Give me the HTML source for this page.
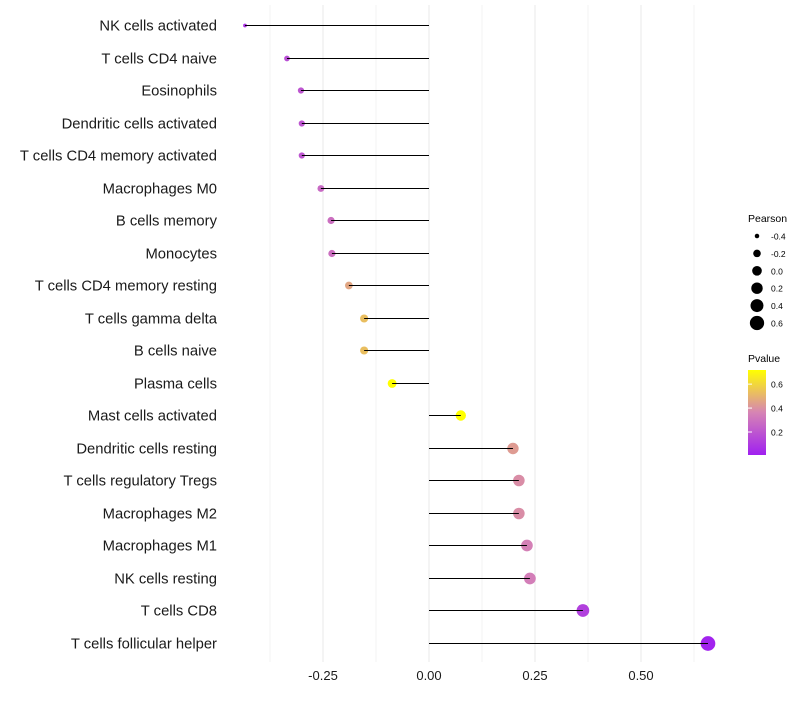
<!DOCTYPE html>
<html><head><meta charset="utf-8"><style>
body{margin:0;background:#fff;font-family:"Liberation Sans",sans-serif}
</style></head><body>
<svg id="c" width="800" height="700" xmlns="http://www.w3.org/2000/svg"></svg>
<script>
const categories=["NK cells activated","T cells CD4 naive","Eosinophils","Dendritic cells activated","T cells CD4 memory activated","Macrophages M0","B cells memory","Monocytes","T cells CD4 memory resting","T cells gamma delta","B cells naive","Plasma cells","Mast cells activated","Dendritic cells resting","T cells regulatory  Tregs ","Macrophages M2","Macrophages M1","NK cells resting","T cells CD8","T cells follicular helper"];
const pearson=[-0.434,-0.335,-0.302,-0.300,-0.300,-0.255,-0.231,-0.229,-0.189,-0.153,-0.153,-0.087,0.075,0.198,0.212,0.212,0.231,0.238,0.363,0.658];
const pvalue=[0.08,0.17,0.2,0.2,0.2,0.27,0.29,0.29,0.46,0.53,0.53,0.72,0.72,0.43,0.39,0.39,0.35,0.34,0.12,0.02];
const xTicks=[-0.25,0,0.25,0.5];
const xTickLabels=["-0.25","0.00","0.25","0.50"];
const sizeLegend=[-0.4,-0.2,0.0,0.2,0.4,0.6];
const sizeLegendLabels=["-0.4","-0.2","0.0","0.2","0.4","0.6"];
const pLegend=[0.2,0.4,0.6];

const NS="http://www.w3.org/2000/svg";
const svg=document.getElementById('c');
const X=v=>429+v*424;
const Y=i=>Math.round(25+i*32.5)+0.5;
const R=v=>Math.sqrt(Math.max(0.5,3.5+(v+0.434)*46));
function lerp(a,b,t){return a.map((x,k)=>Math.round(x+(b[k]-x)*t));}
function col(p){const t=Math.max(0,Math.min(1,(p-0.008)/0.71));
 const c0=[160,32,240],c1=[214,132,180],c2=[255,255,0];
 const c=t<0.5?lerp(c0,c1,t*2):lerp(c1,c2,(t-0.5)*2);return `rgb(${c})`;}
function el(t,a,txt){const e=document.createElementNS(NS,t);for(const k in a)e.setAttribute(k,a[k]);if(txt!==undefined)e.textContent=txt;svg.appendChild(e);return e;}

for(let v=-0.375;v<=0.63;v+=0.125){
 const g=el('line',{x1:X(v),x2:X(v),y1:5,y2:662,stroke:'#ebebeb','stroke-width':Math.abs(v*8%2)<0.01?1.1:0.6});
 
 
}
categories.forEach((c,i)=>{
 const t=el('text',{x:217,y:Y(i)+5,'text-anchor':'end','font-size':14.8,fill:'#1a1a1a'},c);
 
 
 const d=el('circle',{cx:X(pearson[i]),cy:Y(i),r:R(pearson[i]),fill:col(pvalue[i])});
 
 
 const l=el('line',{x1:X(0),x2:X(pearson[i]),y1:Y(i),y2:Y(i),stroke:'#000','stroke-width':1});
 
 
});
xTicks.forEach((v,i)=>{
 const t=el('text',{x:X(v),y:680,'text-anchor':'middle','font-size':13,fill:'#1a1a1a'},xTickLabels[i]);
 
 
});
let t=el('text',{x:748,y:222,'font-size':10.5},'Pearson');


sizeLegend.forEach((v,i)=>{
 const y=236+i*17.4;
 const c=el('circle',{cx:757,cy:y,r:R(v),fill:'#000'});
 
 
 const tt=el('text',{x:771,y:y+3.5,'font-size':8.5},sizeLegendLabels[i]);
 
 
});
t=el('text',{x:748,y:362,'font-size':10.5},'Pvalue');


const defs=el('defs',{});
const g=document.createElementNS(NS,'linearGradient');g.setAttribute('id','pg');g.setAttribute('x1',0);g.setAttribute('x2',0);g.setAttribute('y1',1);g.setAttribute('y2',0);
[0,0.25,0.5,0.75,1].forEach(o=>{const s=document.createElementNS(NS,'stop');s.setAttribute('offset',o);s.setAttribute('stop-color',col(0.008+o*0.71));g.appendChild(s);});
defs.appendChild(g);
const bar=el('rect',{x:748,y:370,width:18,height:85,fill:'url(#pg)'});


pLegend.forEach(v=>{
 const y=455-(v-0.008)/0.71*85;
 const tk=el('line',{x1:748,x2:752,y1:y,y2:y,stroke:'#fff'});
 
 
 const tt=el('text',{x:771,y:y+3.5,'font-size':8.5},v.toFixed(1));
 
 
});
</script>
</body></html>
